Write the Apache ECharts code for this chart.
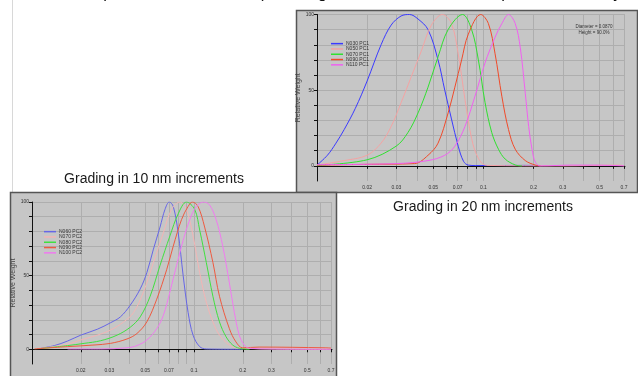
<!DOCTYPE html>
<html>
<head>
<meta charset="utf-8">
<script src="https://cdn.jsdelivr.net/npm/echarts@6/dist/echarts.min.js"></script>
<style>
  html, body { margin: 0; padding: 0; background: #fff; }
  #c { width: 638px; height: 376px; }
</style>
</head>
<body>
<div id="c"></div>
<script>
// x axis (particle diameter, log scale)
const xTicks = [0.02, 0.03, 0.04, 0.05, 0.06, 0.07, 0.08, 0.09, 0.1, 0.2, 0.3, 0.4, 0.5, 0.6, 0.7];
const xLabels = [0.02, 0.03, 0.05, 0.07, 0.1, 0.2, 0.3, 0.5, 0.7];
const yTicks = [0, 10, 20, 30, 40, 50, 60, 70, 80, 90, 100];
const yLabels = [0, 50, 100];

// top chart : grading in 20 nm increments
const names20 = ['N030 PC1', 'N050 PC1', 'N070 PC1', 'N090 PC1', 'N110 PC1'];
const n030 = [[0.0100, 0.5], [0.01155, 7], [0.0130, 15], [0.01457, 24], [0.0170, 38], [0.0200, 56], [0.02427, 80],
  [0.0279, 93], [0.0320, 99], [0.0360, 100], [0.0405, 97], [0.0465, 90], [0.0534, 70], [0.0586, 50], [0.0643, 31],
  [0.0706, 13], [0.0760, 3], [0.0812, 0.5], [0.090, 0.2], [0.20, 0.3], [0.22, 0]];
const n050 = [[0.0100, 0.5], [0.01457, 3.5], [0.0200, 7], [0.02427, 15], [0.0279, 26], [0.0321, 42], [0.0369, 59],
  [0.0424, 76], [0.0487, 93], [0.0567, 100], [0.0643, 94], [0.0706, 74], [0.0775, 44], [0.0850, 18], [0.0933, 5],
  [0.1047, 0.3], [0.30, 0], [0.656, 0.5], [0.70, 0]];
const n070 = [[0.0100, 0.3], [0.0200, 4], [0.0299, 13], [0.0352, 22], [0.0405, 35], [0.0465, 52], [0.0534, 72],
  [0.0614, 90], [0.0750, 100], [0.0850, 90], [0.0933, 70], [0.1023, 42], [0.1123, 22], [0.1232, 11], [0.1352, 4.5],
  [0.1554, 0.6], [0.1706, 0]];
const n090 = [[0.0100, 0.5], [0.0200, 1], [0.0386, 1.5], [0.0465, 7], [0.0534, 15], [0.0614, 35], [0.0674, 52],
  [0.0740, 70], [0.0812, 87], [0.0964, 100], [0.1072, 94], [0.1176, 74], [0.1291, 46], [0.1416, 24], [0.1554, 11],
  [0.1786, 3.5], [0.2053, 0.5], [0.22, 0]];
const n110 = [[0.0100, 0.8], [0.0300, 1.5], [0.0465, 3.5], [0.0586, 7], [0.0674, 13], [0.0775, 26], [0.0890, 46],
  [0.1023, 68], [0.1176, 85], [0.1291, 94], [0.1416, 100], [0.1554, 94], [0.1667, 78], [0.1786, 48], [0.1872, 26],
  [0.1960, 11], [0.2053, 2.4], [0.2201, 0], [0.342, 0.5], [0.452, 0.5], [0.70, 0]];

// bottom chart : grading in 10 nm increments
const names10 = ['N060 PC2', 'N070 PC2', 'N080 PC2', 'N090 PC2', 'N100 PC2'];
const n060 = [[0.01138, 0.7], [0.01374, 2.5], [0.01658, 5.6], [0.0200, 9.6], [0.02529, 13.6], [0.0305, 18],
  [0.03511, 22], [0.04043, 30], [0.04654, 41], [0.05112, 52], [0.05615, 68], [0.06168, 83], [0.06618, 95],
  [0.07033, 100], [0.07441, 97], [0.07984, 79], [0.08567, 50], [0.0919, 25], [0.0986, 9.6], [0.1083, 1.8],
  [0.119, 0.2], [0.20, 0]];
const n070b = [[0.01138, 0.7], [0.01658, 3.4], [0.0200, 6.3], [0.02529, 9.6], [0.0305, 13], [0.0368, 18.6],
  [0.04237, 25], [0.04878, 39], [0.05615, 59], [0.06464, 79], [0.07268, 95], [0.08173, 100], [0.08978, 95],
  [0.0986, 77], [0.1083, 52], [0.119, 32], [0.1307, 18.6], [0.1435, 9.6], [0.1652, 2.9], [0.1901, 0.7],
  [0.70, 0]];
const n080 = [[0.01138, 0.5], [0.01658, 2.5], [0.02096, 4], [0.0265, 5.8], [0.03351, 9.6], [0.04043, 15],
  [0.04654, 22], [0.05358, 36], [0.06168, 57], [0.071, 77], [0.07984, 92], [0.08978, 100], [0.1009, 95],
  [0.1083, 81], [0.119, 59], [0.1307, 36], [0.1435, 18.6], [0.1576, 8.5], [0.1731, 2.9], [0.1901, 0.7],
  [0.22, 0]];
const n090b = [[0.01037, 0.3], [0.01658, 1.8], [0.02413, 2.9], [0.0305, 4], [0.03857, 7], [0.0444, 10.7],
  [0.05112, 18.6], [0.05885, 34], [0.06775, 54], [0.07441, 70], [0.08368, 88], [0.0919, 97], [0.09768, 100],
  [0.1058, 97], [0.1162, 83], [0.1307, 59], [0.1435, 36], [0.1652, 14], [0.1814, 5], [0.1993, 1],
  [0.252, 1.5], [0.644, 1], [0.70, 0.8]];
const n100 = [[0.01658, 0.2], [0.0265, 0.2], [0.03857, 1], [0.0444, 2.5], [0.05112, 6.3], [0.05885, 14],
  [0.06464, 23], [0.071, 39], [0.07799, 57], [0.08567, 74], [0.09408, 88], [0.1033, 97], [0.1146, 100],
  [0.1247, 98], [0.1369, 88], [0.1504, 70], [0.1652, 45], [0.1773, 25], [0.1901, 9.6], [0.2041, 2.9],
  [0.2189, 0.7], [0.30, 0.2], [0.70, 0]];

const colors20 = ['#3a3aff', '#f4a3a3', '#30e030', '#f04a2a', '#f060f0'];
const colors10 = ['#6666e6', '#f3b4b4', '#40e040', '#ee5a40', '#f07af0'];
const data20 = [n030, n050, n070, n090, n110];
const data10 = [n060, n070b, n080, n090b, n100];

const txt = '#333';
const gridCol = '#aeaeae';

function xAxisOpt(gridIndex) {
  return {
    type: 'log', gridIndex: gridIndex, min: 0.01, max: 0.71, logBase: 10,
    axisLine: { lineStyle: { color: '#111', width: 1 } },
    axisTick: { customValues: xTicks, length: 3, lineStyle: { color: '#111' } },
    axisLabel: { customValues: xLabels, fontSize: 5, color: txt, margin: 4,
      fontFamily: 'Liberation Sans' },
    splitLine: { show: true, lineStyle: { color: gridCol, width: 1 } }
  };
}

function yAxisOpt(gridIndex, gap) {
  return {
    type: 'value', gridIndex: gridIndex, min: -10, max: 100,
    name: 'Relative Weight', nameLocation: 'middle', nameGap: gap,
    nameTextStyle: { fontSize: 7, color: '#444', fontFamily: 'Liberation Sans' },
    axisLine: { show: true, lineStyle: { color: '#111', width: 1 } },
    axisTick: { show: true, customValues: yTicks, length: 3, lineStyle: { color: '#111' } },
    axisLabel: { customValues: yLabels, fontSize: 5, color: txt, margin: 3,
      fontFamily: 'Liberation Sans' },
    splitLine: { show: true, lineStyle: { color: gridCol, width: 1 } }
  };
}

const series = [];
names20.forEach(function (n, i) {
  series.push({
    name: n, type: 'line', xAxisIndex: 0, yAxisIndex: 0, data: data20[i],
    smooth: 0.35, showSymbol: false, lineStyle: { width: 1, color: colors20[i] }, itemStyle: { color: colors20[i] }
  });
});
names10.forEach(function (n, i) {
  series.push({
    name: n, type: 'line', xAxisIndex: 1, yAxisIndex: 1, data: data10[i],
    smooth: 0.35, showSymbol: false, lineStyle: { width: 1, color: colors10[i] }, itemStyle: { color: colors10[i] }
  });
});

function legendOpt(data, left, top) {
  return {
    data: data, orient: 'vertical', left: left, top: top, icon: 'rect',
    itemWidth: 12, itemHeight: 1.5, itemGap: 0, padding: 0, selectedMode: false,
    textStyle: { fontSize: 5, lineHeight: 5.3, color: txt, padding: [0, 0, 0, -2], fontFamily: 'Liberation Sans' }
  };
}

const chart = echarts.init(document.getElementById('c'), null, { renderer: 'canvas' });
chart.setOption({
  animation: false,
  backgroundColor: '#fff',
  grid: [
    { left: 317, top: 14.5, right: 13, bottom: 195 },
    { left: 32, top: 202, right: 306, bottom: 12 }
  ],
  xAxis: [xAxisOpt(0), xAxisOpt(1)],
  yAxis: [yAxisOpt(0, 14), yAxisOpt(1, 14)],
  legend: [legendOpt(names20, 331, 41), legendOpt(names10, 44, 229)],
  graphic: [
    { type: 'line', z: -20, shape: { x1: 12.5, y1: 0, x2: 12.5, y2: 192 }, style: { stroke: '#d8d8d8', lineWidth: 1 } },
    { type: 'text', z: -20, x: 18, y: 2, style: { text: '\u2022', fontSize: 16.5, fill: '#111', textVerticalAlign: 'bottom', fontFamily: 'Liberation Sans' } },
    { type: 'text', z: -20, x: 61, y: 2, style: { text: 'Example: 30 \u2013 120 nm PC (centrifugal sedimentation technique \u2013 CPS Analyzer)', fontSize: 16.5, fill: '#111', textVerticalAlign: 'bottom', fontFamily: 'Liberation Sans' } },
    { type: 'rect', z: -20, shape: { x: 296.5, y: 10.5, width: 341, height: 182 }, style: { fill: '#c6c6c6', stroke: '#555', lineWidth: 1.5 } },
    { type: 'rect', z: -20, shape: { x: 10.5, y: 192.5, width: 326, height: 190 }, style: { fill: '#c6c6c6', stroke: '#555', lineWidth: 1.5 } },
    { type: 'text', z: 10, x: 594, y: 30, style: { text: 'Diameter = 0.0870\nHeight = 90.0%', fontSize: 4.5, lineHeight: 6, fill: '#333', textAlign: 'center', textVerticalAlign: 'middle', fontFamily: 'Liberation Sans' } },
    { type: 'text', z: -20, x: 154, y: 179, style: { text: 'Grading in 10 nm increments', fontSize: 14, fill: '#1a1a1a', textAlign: 'center', textVerticalAlign: 'middle', fontFamily: 'Liberation Sans' } },
    { type: 'text', z: -20, x: 483, y: 207, style: { text: 'Grading in 20 nm increments', fontSize: 14, fill: '#1a1a1a', textAlign: 'center', textVerticalAlign: 'middle', fontFamily: 'Liberation Sans' } }
  ],
  series: series
});
</script>
</body>
</html>
